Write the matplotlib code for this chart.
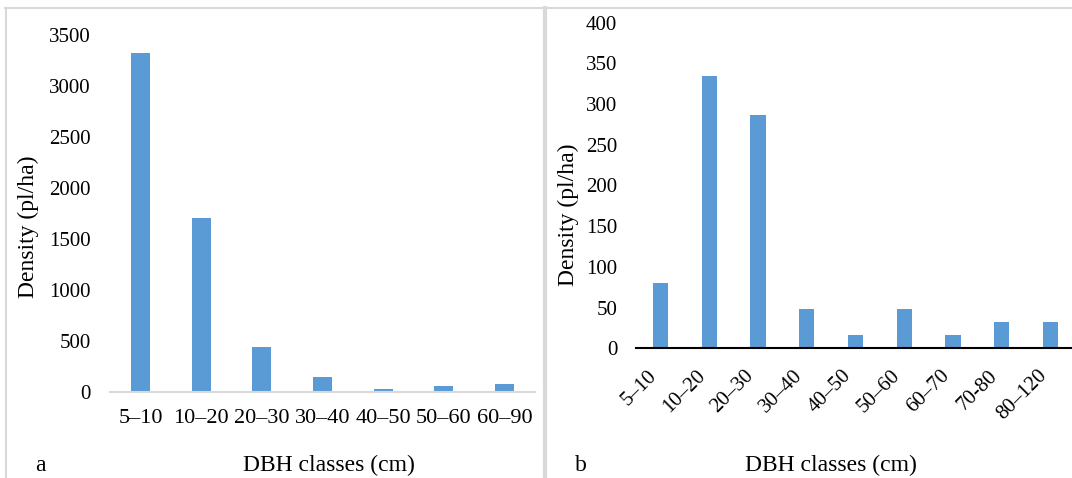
import matplotlib
matplotlib.use("Agg")
import matplotlib.pyplot as plt
from matplotlib.lines import Line2D

# Stand density by diameter class, two stands
classes_a = ["5–10", "10–20", "20–30", "30–40", "40–50", "50–60", "60–90"]
density_a = [3320, 1700, 440, 140, 30, 60, 75]

classes_b = ["5–10", "10–20", "20–30", "30–40", "40–50", "50–60", "60–70", "70-80", "80–120"]
density_b = [80, 335, 287, 48, 16, 48, 16, 32, 32]

BAR = "#5B9BD5"
GRID = "#D9D9D9"
W, H = 1072, 478

plt.rcParams["font.family"] = ["Liberation Serif", "DejaVu Serif"]

fig = plt.figure(figsize=(W / 100, H / 100), dpi=100)
fig.patch.set_facecolor("white")


def px_axes(x0, x1, y_top, y_bot):
    return fig.add_axes([x0 / W, 1 - y_bot / H, (x1 - x0) / W, (y_bot - y_top) / H])


# panel a
ax1 = px_axes(110.2, 534.8, 35.0, 391.7)
xa = range(len(classes_a))
ax1.bar(xa, density_a, width=0.31, color=BAR)
ax1.set_xlim(-0.5, len(classes_a) - 0.5)
ax1.set_ylim(0, 3500)
ax1.set_yticks(range(0, 3501, 500))
ax1.set_xticks(list(xa))
ax1.set_xticklabels(classes_a)
for s in ("top", "right", "left"):
    ax1.spines[s].set_visible(False)
ax1.spines["bottom"].set_color(GRID)
ax1.spines["bottom"].set_linewidth(1.5)
ax1.tick_params(axis="y", length=0, pad=14, labelsize=15)
ax1.tick_params(axis="x", length=0, pad=12.5, labelsize=16)
ax1.set_ylabel("Density (pl/ha)", fontsize=17, va="center")
ax1.yaxis.set_label_coords(-0.1936, 0.462)
ax1.set_xlabel("DBH classes (cm)", fontsize=17, va="baseline")
ax1.xaxis.set_label_coords(0.515, -0.222)

# panel b
ax2 = px_axes(636.0, 1075.0, 22.7, 348.3)
xb = range(len(classes_b))
ax2.bar(xb, density_b, width=0.31, color=BAR)
ax2.set_xlim(-0.5, len(classes_b) - 0.5)
ax2.set_ylim(0, 400)
ax2.set_yticks(range(0, 401, 50))
ax2.set_xticks(list(xb))
ax2.set_xticklabels(classes_b, rotation=45, ha="right")
for s in ("top", "right", "left"):
    ax2.spines[s].set_visible(False)
ax2.spines["bottom"].set_color("black")
ax2.spines["bottom"].set_linewidth(1.5)
ax2.tick_params(axis="y", length=0, pad=13.5, labelsize=15)
ax2.tick_params(axis="x", length=0, pad=13, labelsize=15)
ax2.set_ylabel("Density (pl/ha)", fontsize=17, va="center")
ax2.yaxis.set_label_coords(-0.155, 0.409)
ax2.set_xlabel("DBH classes (cm)", fontsize=17, va="baseline")
ax2.xaxis.set_label_coords(0.444, -0.377)

# panel letters
fig.text(40 / W, 1 - 471 / H, "a", fontsize=17, ha="center", va="baseline")
fig.text(581 / W, 1 - 471 / H, "b", fontsize=17, ha="center", va="baseline")

# panel frames
def fline(xs, ys, lw, color=GRID):
    fig.add_artist(Line2D([x / W for x in xs], [1 - y / H for y in ys],
                          color=color, linewidth=lw, transform=fig.transFigure))

fline([5, W], [8.3, 8.3], 1.5)
fline([5.5, 5.5], [8.3, H], 1.5)
fline([545.3, 545.3], [8.3, H], 3.0)

fig.savefig("out.png", dpi=100, facecolor="white")
